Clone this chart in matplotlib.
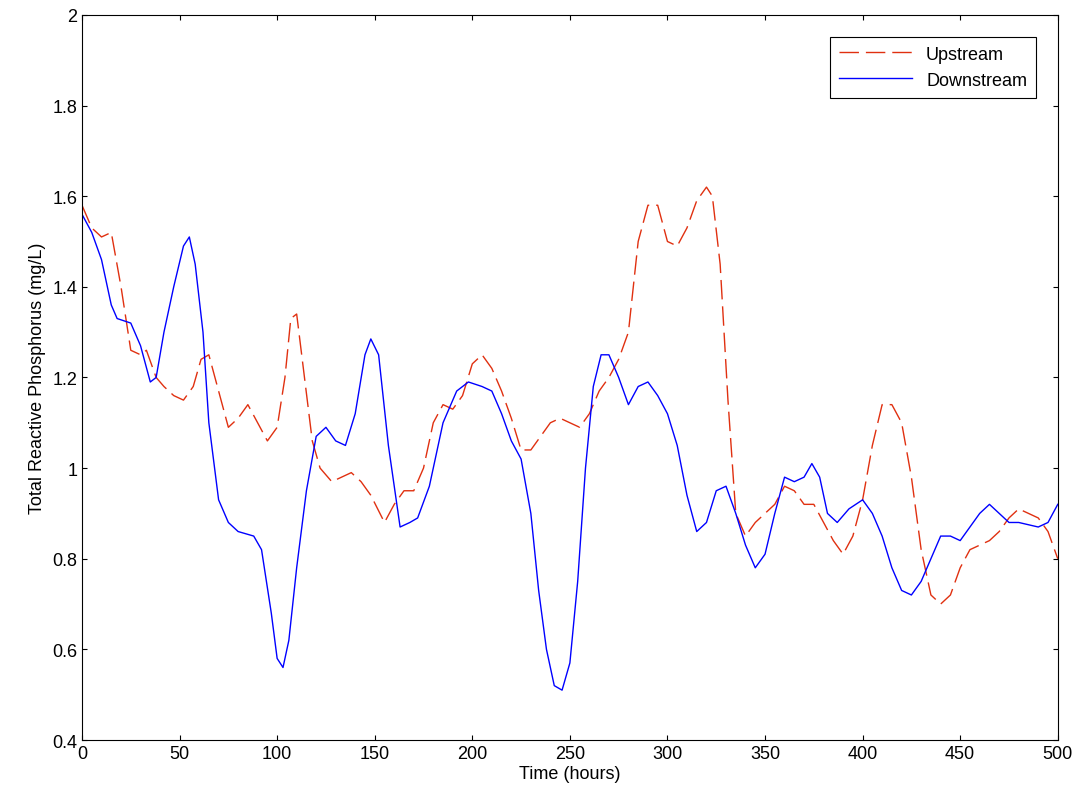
import numpy as np
import matplotlib.pyplot as plt

plt.rcParams['font.family'] = ['Liberation Sans', 'DejaVu Sans']

t_down = [0, 5, 10, 15, 18, 25, 30, 35, 38, 42, 47, 52, 55, 58, 62, 65, 70, 75, 80, 88, 92, 97, 100, 103, 106,
          110, 115, 120, 125, 130, 135, 140, 145, 148, 152, 157, 163, 168, 172, 178, 185, 192, 198, 205, 210,
          215, 220, 225, 230, 234, 238, 242, 246, 250, 254, 258, 262, 266, 270, 275, 280, 285, 290, 295, 300,
          305, 310, 315, 320, 325, 330, 335, 340, 345, 350, 355, 360, 365, 370, 374, 378, 382, 387, 393, 400,
          405, 410, 415, 420, 425, 430, 435, 440, 445, 450, 455, 460, 465, 470, 475, 480, 485, 490, 495, 500]
downstream = [1.56, 1.52, 1.46, 1.36, 1.33, 1.32, 1.27, 1.19, 1.2, 1.3, 1.4, 1.49, 1.51, 1.45, 1.3, 1.1, 0.93,
              0.88, 0.86, 0.85, 0.82, 0.68, 0.58, 0.56, 0.62, 0.78, 0.95, 1.07, 1.09, 1.06, 1.05, 1.12, 1.25,
              1.285, 1.25, 1.05, 0.87, 0.88, 0.89, 0.96, 1.1, 1.17, 1.19, 1.18, 1.17, 1.12, 1.06, 1.02, 0.9,
              0.73, 0.6, 0.52, 0.51, 0.57, 0.75, 1.0, 1.18, 1.25, 1.25, 1.2, 1.14, 1.18, 1.19, 1.16, 1.12, 1.05,
              0.94, 0.86, 0.88, 0.95, 0.96, 0.9, 0.83, 0.78, 0.81, 0.9, 0.98, 0.97, 0.98, 1.01, 0.98, 0.9, 0.88,
              0.91, 0.93, 0.9, 0.85, 0.78, 0.73, 0.72, 0.75, 0.8, 0.85, 0.85, 0.84, 0.87, 0.9, 0.92, 0.9, 0.88,
              0.88, 0.875, 0.87, 0.88, 0.92]

t_up = [0, 5, 10, 15, 20, 25, 30, 33, 38, 42, 47, 52, 57, 61, 65, 70, 75, 80, 85, 90, 95, 100, 104, 107, 110,
        114, 118, 122, 128, 133, 138, 143, 148, 155, 160, 165, 170, 175, 180, 185, 190, 195, 200, 205, 210, 215,
        220, 225, 230, 235, 240, 245, 250, 255, 260, 265, 270, 275, 280, 285, 290, 295, 300, 305, 310, 315, 320,
        323, 327, 331, 335, 340, 345, 350, 355, 360, 365, 370, 375, 380, 385, 390, 395, 400, 405, 410, 415, 420,
        425, 430, 435, 440, 445, 450, 455, 460, 465, 470, 475, 480, 485, 490, 495, 500]
upstream = [1.58, 1.53, 1.51, 1.52, 1.4, 1.26, 1.25, 1.26, 1.2, 1.18, 1.16, 1.15, 1.18, 1.24, 1.25, 1.17, 1.09,
            1.11, 1.14, 1.1, 1.06, 1.09, 1.2, 1.33, 1.34, 1.2, 1.06, 1.0, 0.97, 0.98, 0.99, 0.97, 0.94, 0.88,
            0.92, 0.95, 0.95, 1.0, 1.1, 1.14, 1.13, 1.16, 1.23, 1.25, 1.22, 1.17, 1.11, 1.04, 1.04, 1.07, 1.1,
            1.11, 1.1, 1.09, 1.12, 1.17, 1.2, 1.24, 1.3, 1.5, 1.58, 1.58, 1.5, 1.49, 1.53, 1.59, 1.62, 1.6, 1.45,
            1.15, 0.9, 0.85, 0.88, 0.9, 0.92, 0.96, 0.95, 0.92, 0.92, 0.88, 0.84, 0.81, 0.85, 0.93, 1.05, 1.14,
            1.14, 1.1, 0.98, 0.82, 0.72, 0.7, 0.72, 0.78, 0.82, 0.83, 0.84, 0.86, 0.89, 0.91, 0.9, 0.89, 0.86, 0.8]

fig = plt.figure(figsize=(10.86, 8.03), dpi=100)
ax = fig.add_axes([0.0755, 0.0772, 0.8985, 0.903])
ax.plot(t_up, upstream, color='#e03010', lw=1, dashes=(14, 5), label='Upstream')
ax.plot(t_down, downstream, color='#0000ff', lw=1, label='Downstream')
ax.set_xlim(0, 500)
ax.set_ylim(0.4, 2)
ax.set_xticks(np.arange(0, 501, 50))
ax.set_yticks(np.arange(0.4, 2.01, 0.2))
ax.set_yticklabels(['0.4', '0.6', '0.8', '1', '1.2', '1.4', '1.6', '1.8', '2'])
ax.tick_params(direction='in', labelsize=13, top=True, right=True)
ax.set_xlabel('Time (hours)', fontsize=13, labelpad=2)
ax.set_ylabel('Total Reactive Phosphorus (mg/L)', fontsize=13)
leg = ax.legend(loc='upper right', fontsize=13, fancybox=False, edgecolor='black', framealpha=1,
                borderaxespad=1.2, handlelength=4, borderpad=0.5)
leg.get_frame().set_linewidth(0.8)
fig.savefig('out.png')
